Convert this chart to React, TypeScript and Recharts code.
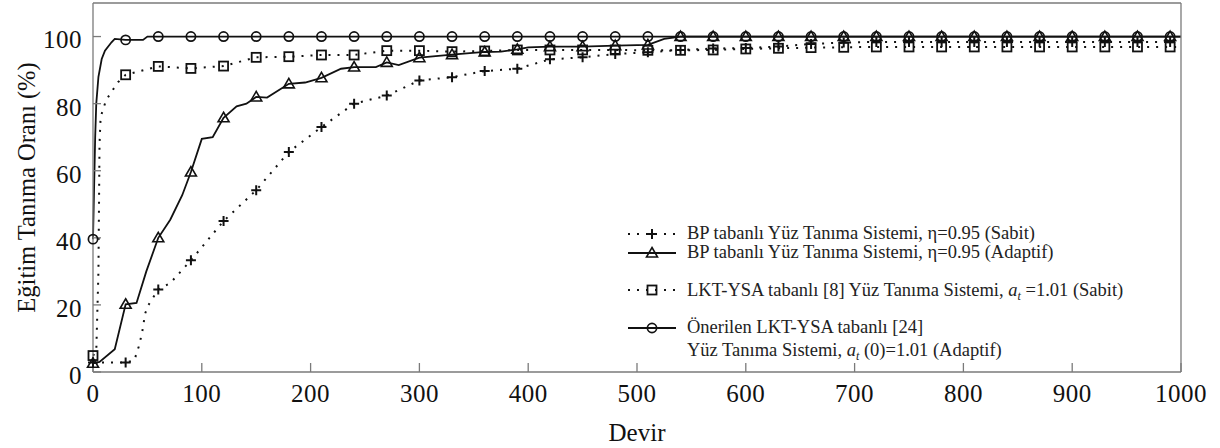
import React from "react"
import { LineChart, Line, XAxis, YAxis, Legend } from "recharts"

const FONT = "Liberation Serif, serif"
const INK = "#111111"
const AXIS = "#7a7a7a"

const xTicks = [0, 100, 200, 300, 400, 500, 600, 700, 800, 900, 1000]
const yTicks = [0, 20, 40, 60, 80, 100]

// BP tabanlı, η=0.95 (Sabit) - artı işaretli, noktalı
const bpSabitDevir = [0, 30, 38, 42, 45, 48, 51, 60, 71, 90, 120, 150, 180, 210, 240, 270, 300, 330, 360, 390, 420, 450, 480, 510, 540, 570, 600, 630, 660, 690, 720, 750, 780, 810, 840, 870, 900, 930, 960, 990, 1000]
const bpSabitOran = [2.8, 2.8, 3.5, 7.5, 11.5, 17.5, 20, 24.6, 26.5, 33.3, 45, 54.2, 65.6, 73, 80, 82.4, 86.9, 87.9, 89.7, 90.4, 93.2, 93.8, 94.8, 95.3, 96, 96.4, 96.6, 97, 97.8, 98.2, 98.4, 98.4, 98.4, 98.4, 98.4, 98.4, 98.4, 98.4, 98.4, 98.4, 98.4]

// BP tabanlı, η=0.95 (Adaptif) - üçgen, düz çizgi
const bpAdaptifDevir = [0, 6, 20, 30, 40, 49, 60, 71, 82, 90, 100, 110, 120, 132, 141, 150, 160, 180, 195, 210, 228, 240, 260, 270, 281, 300, 330, 360, 375, 390, 400, 420, 450, 480, 510, 525, 540, 570, 600, 630, 660, 690, 720, 750, 780, 810, 840, 870, 900, 930, 960, 990, 1000]
const bpAdaptifOran = [2.6, 3, 6.8, 20.2, 20.6, 30, 40, 45.4, 52.7, 59.6, 69.5, 70, 75.8, 79.2, 80, 82, 81.8, 85.9, 86.3, 87.7, 90.4, 90.9, 90.9, 92.3, 91.5, 93.7, 94.6, 95.4, 95.5, 96.2, 96.8, 97, 97, 97.3, 97.5, 99.3, 100, 100, 100, 100, 100, 100, 100, 100, 100, 100, 100, 100, 100, 100, 100, 100, 100]

// LKT-YSA [8], a_t=1.01 (Sabit) - kare, noktalı
const lktSabitDevir = [0, 3, 5, 6, 7, 12, 18, 23, 30, 60, 90, 120, 150, 180, 210, 240, 270, 300, 330, 360, 390, 420, 450, 480, 510, 540, 570, 600, 630, 660, 690, 720, 750, 780, 810, 840, 870, 900, 930, 960, 990, 1000]
const lktSabitOran = [4.9, 6, 30, 68, 76, 81, 84, 86.4, 88.6, 91.1, 90.5, 91.2, 93.8, 94, 94.5, 94.5, 95.8, 95.8, 95.5, 95.7, 96, 96, 96, 96, 95.9, 95.9, 96, 96.3, 96.5, 96.7, 96.8, 96.9, 96.9, 96.9, 96.9, 96.9, 96.9, 96.9, 96.9, 96.9, 96.9, 96.9]

// Önerilen LKT-YSA [24] (Adaptif) - daire, düz çizgi
const onerilenDevir = [0, 2, 3, 5, 8, 11, 17, 20, 30, 46, 50, 60, 90, 120, 150, 180, 210, 240, 270, 300, 330, 360, 390, 420, 450, 480, 510, 540, 570, 600, 630, 660, 690, 720, 750, 780, 810, 840, 870, 900, 930, 960, 990, 1000]
const onerilenOran = [39.6, 70, 80, 88, 93.3, 95.8, 98.3, 99.3, 99, 99, 100, 100, 100, 100, 100, 100, 100, 100, 100, 100, 100, 100, 100, 100, 100, 100, 100, 100, 100, 100, 100, 100, 100, 100, 100, 100, 100, 100, 100, 100, 100, 100, 100, 100]

type Shape = "plus" | "triangle" | "square" | "circle"

const toPoints = (devir: number[], oran: number[]) => devir.map((x, i) => ({ x, y: oran[i] }))

const series = [
  { key: "bpSabit", data: toPoints(bpSabitDevir, bpSabitOran), shape: "plus" as Shape, dotted: true },
  { key: "lktSabit", data: toPoints(lktSabitDevir, lktSabitOran), shape: "square" as Shape, dotted: true },
  { key: "bpAdaptif", data: toPoints(bpAdaptifDevir, bpAdaptifOran), shape: "triangle" as Shape, dotted: false },
  { key: "onerilen", data: toPoints(onerilenDevir, onerilenOran), shape: "circle" as Shape, dotted: false },
]

function Marker({ shape, cx, cy }: { shape: Shape; cx: number; cy: number }) {
  switch (shape) {
    case "plus":
      return (
        <path d={`M${cx - 5},${cy}H${cx + 5}M${cx},${cy - 5}V${cy + 5}`} stroke={INK} strokeWidth={2} fill="none" />
      )
    case "triangle":
      return (
        <path d={`M${cx},${cy - 5.5}L${cx + 5.5},${cy + 4}L${cx - 5.5},${cy + 4}Z`} stroke={INK} strokeWidth={1.6} fill="none" />
      )
    case "square":
      return <rect x={cx - 4.5} y={cy - 4.5} width={9} height={9} stroke={INK} strokeWidth={1.8} fill="none" />
    default:
      return <circle cx={cx} cy={cy} r={4.6} stroke={INK} strokeWidth={1.7} fill="none" />
  }
}

const markerDot = (shape: Shape) => (props: any) => {
  const { cx, cy, payload, index } = props
  if (payload.x % 30 !== 0 || payload.x > 990) return <g key={index} />
  return (
    <g key={index}>
      <Marker shape={shape} cx={cx} cy={cy} />
    </g>
  )
}

function ChartLegend() {
  const rows = [
    { y: 14, shape: "plus" as Shape, dotted: true },
    { y: 33, shape: "triangle" as Shape, dotted: false },
    { y: 70, shape: "square" as Shape, dotted: true },
    { y: 108, shape: "circle" as Shape, dotted: false },
  ]
  return (
    <svg width={600} height={150} style={{ overflow: "visible", display: "block" }}>
      {rows.map((r) => (
        <g key={r.y}>
          <line
            x1={8}
            x2={56}
            y1={r.y}
            y2={r.y}
            stroke={INK}
            strokeWidth={r.dotted ? 2 : 1.8}
            strokeDasharray={r.dotted ? "2 7" : undefined}
          />
          <Marker shape={r.shape} cx={32} cy={r.y} />
        </g>
      ))}
      <g fontFamily={FONT} fontSize={18.5} fill="#222" style={{ fontFamily: FONT }}>
        <text x={67} y={19}>BP tabanlı Yüz Tanıma Sistemi, η=0.95 (Sabit)</text>
        <text x={67} y={38}>BP tabanlı Yüz Tanıma Sistemi, η=0.95 (Adaptif)</text>
        <text x={67} y={76}>
          LKT-YSA tabanlı [8] Yüz Tanıma Sistemi, <tspan fontStyle="italic">a</tspan>
          <tspan fontStyle="italic" fontSize={12} dy={4}>t</tspan>
          <tspan dy={-4}> =1.01 (Sabit)</tspan>
        </text>
        <text x={67} y={113}>Önerilen LKT-YSA tabanlı [24]</text>
        <text x={67} y={136}>
          Yüz Tanıma Sistemi, <tspan fontStyle="italic">a</tspan>
          <tspan fontStyle="italic" fontSize={12} dy={4}>t</tspan>
          <tspan dy={-4}> (0)=1.01 (Adaptif)</tspan>
        </text>
      </g>
    </svg>
  )
}

export default function App() {
  const tickStyle = { fill: INK, fontSize: 25, fontFamily: FONT, letterSpacing: 0.5 }
  return (
    <div
      style={{
        position: "fixed",
        left: 0,
        top: 0,
        width: 1220,
        height: 448,
        background: "#fff",
        fontFamily: FONT,
      }}
    >
      <LineChart width={1220} height={448} margin={{ top: 2, right: 0, bottom: 0, left: 0 }} style={{ fontFamily: FONT }}>
        <XAxis
          xAxisId="bottom"
          dataKey="x"
          type="number"
          domain={[0, 1000]}
          ticks={xTicks}
          height={76}
          stroke={AXIS}
          strokeWidth={1.3}
          tickSize={-9}
          tickMargin={21}
          tick={tickStyle}
          label={{ value: "Devir", position: "insideBottom", offset: 7, fill: INK, fontSize: 25, fontFamily: FONT }}
        />
        <XAxis
          xAxisId="top"
          orientation="top"
          dataKey="x"
          type="number"
          domain={[0, 1000]}
          ticks={xTicks}
          height={1}
          stroke={AXIS}
          strokeWidth={1.3}
          tickSize={-9}
          tickFormatter={() => ""}
        />
        <YAxis
          yAxisId="left"
          type="number"
          domain={[0, 110]}
          ticks={yTicks}
          width={93}
          stroke={AXIS}
          strokeWidth={1.3}
          tickSize={-8}
          tickMargin={19}
          tick={{ ...tickStyle, dy: 3 }}
          label={{
            value: "Eğitim Tanıma Oranı (%)",
            angle: -90,
            position: "center",
            dx: -20,
            fill: INK,
            fontSize: 24.5,
            fontFamily: FONT,
          }}
        />
        <YAxis
          yAxisId="right"
          orientation="right"
          type="number"
          domain={[0, 110]}
          ticks={yTicks}
          width={39}
          stroke={AXIS}
          strokeWidth={1.3}
          tickSize={-8}
          tickFormatter={() => ""}
        />
        {series.map((s) => (
          <Line
            key={s.key}
            xAxisId="bottom"
            yAxisId="left"
            data={s.data}
            dataKey="y"
            type="linear"
            stroke={INK}
            strokeWidth={s.dotted ? 2 : 1.8}
            strokeDasharray={s.dotted ? "2 7" : undefined}
            dot={markerDot(s.shape)}
            activeDot={false}
            isAnimationActive={false}
          />
        ))}
        <Legend
          layout="horizontal"
          verticalAlign="middle"
          align="center"
          content={() => <ChartLegend />}
          wrapperStyle={{ position: "absolute", left: 620, top: 220, width: 560, height: 150 }}
        />
      </LineChart>
    </div>
  )
}
